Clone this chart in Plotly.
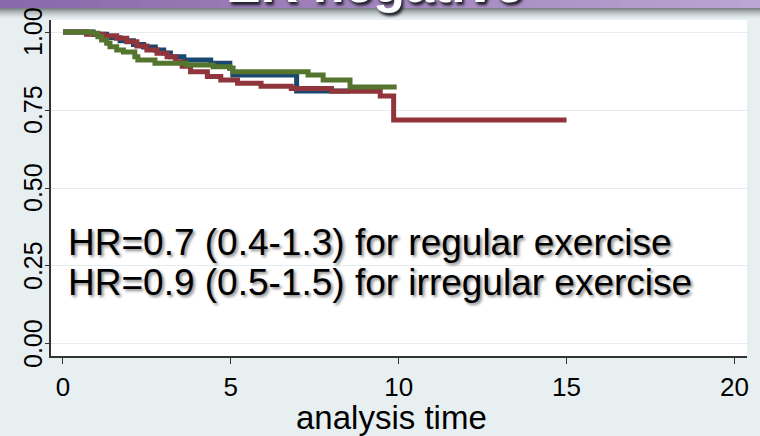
import plotly.graph_objects as go

# ---------------- data (Kaplan-Meier estimates) -------------
time_blue = [0, 0.9, 1.3, 1.7, 2.1, 2.4, 2.75, 3.0, 3.2, 3.6, 4.4, 4.97, 5.06, 6.96, 8.55]
surv_blue = [1.0, 0.993, 0.982, 0.972, 0.96, 0.952, 0.942, 0.933, 0.921, 0.91, 0.9, 0.884, 0.862, 0.811, 0.811]

time_red = [0, 0.7, 1.2, 1.6, 1.9, 2.2, 2.5, 2.8, 3.1, 3.35, 3.55, 3.8, 4.3, 4.7, 5.2, 5.9, 6.8, 8.0, 9.45, 9.85, 15.0]
surv_red = [1.0, 0.993, 0.988, 0.98, 0.969, 0.955, 0.942, 0.932, 0.921, 0.905, 0.89, 0.873, 0.857, 0.846, 0.836, 0.826, 0.819, 0.81, 0.795, 0.718, 0.718]

time_green = [0, 0.85, 1.04, 1.15, 1.3, 1.4, 1.6, 1.8, 2.14, 2.23, 2.74, 3.68, 4.47, 4.97, 5.06, 7.3, 7.75, 8.55, 9.94]
surv_green = [1.0, 0.996, 0.985, 0.974, 0.964, 0.953, 0.942, 0.936, 0.921, 0.91, 0.9, 0.894, 0.889, 0.884, 0.873, 0.862, 0.846, 0.824, 0.824]

x_ticks = [0, 5, 10, 15, 20]
y_ticks = [0.0, 0.25, 0.5, 0.75, 1.0]
y_ticklabels = ["0.00", "0.25", "0.50", "0.75", "1.00"]

title_text = "ER negative"
hr_lines = ["HR=0.7 (0.4-1.3) for regular exercise",
            "HR=0.9 (0.5-1.5) for irregular exercise"]
x_title = "analysis time"

# ---------------- layout geometry ----------------
W, H = 760, 436
ML, MR, MT, MB = 51, 13, 20, 80
PW, PH = W - ML - MR, H - MT - MB


def py(p):  # pixel row -> paper y
    return (H - MB - p) / PH


def pxx(p):  # pixel column -> paper x
    return (p - ML) / PW


FONT = "Liberation Sans, Arial, sans-serif"

fig = go.Figure()
for t, s, c in [(time_blue, surv_blue, "#1a476f"),
                (time_red, surv_red, "#90353b"),
                (time_green, surv_green, "#55752f")]:
    fig.add_trace(go.Scatter(x=t, y=s, mode="lines", line=dict(color=c, width=5, shape="hv"),
                             showlegend=False, hoverinfo="skip"))

shapes = []
# purple header band with horizontal gradient
n = 38
c0 = (138, 104, 170)
c1 = (187, 165, 210)
for i in range(n):
    f = i / (n - 1)
    col = "rgb(%d,%d,%d)" % tuple(int(c0[k] + (c1[k] - c0[k]) * f) for k in range(3))
    shapes.append(dict(type="rect", xref="paper", yref="paper",
                       x0=pxx(i * W / n), x1=pxx((i + 1) * W / n + 1),
                       y0=py(8), y1=py(-2), fillcolor=col, line=dict(width=0), layer="above"))
# shadow below band
m = 11
for j in range(m):
    a = 0.62 * (1 - j / m) ** 1.6
    shapes.append(dict(type="rect", xref="paper", yref="paper",
                       x0=pxx(-2), x1=pxx(W + 2), y0=py(9 + j), y1=py(8 + j),
                       fillcolor="rgba(60,66,66,%.3f)" % a, line=dict(width=0), layer="above"))

fig.update_layout(
    template="none",
    width=W, height=H,
    margin=dict(l=ML, r=MR, t=MT, b=MB, pad=0, autoexpand=False),
    paper_bgcolor="#e8eff1",
    plot_bgcolor="#ffffff",
    shapes=shapes,
    xaxis=dict(range=[-0.357, 20.375], tickvals=x_ticks, ticks="outside", ticklen=6,
               tickcolor="#333333", showgrid=False, zeroline=False, showline=True,
               linecolor="#333333", linewidth=1.5, ticklabelstandoff=1, automargin=False,
               tickfont=dict(family=FONT, size=26, color="#000000")),
    yaxis=dict(range=[-0.0385, 1.0385], tickvals=y_ticks, showticklabels=False,
               ticks="outside", ticklen=4, tickcolor="#333333",
               showgrid=True, gridcolor="#e3ecee", gridwidth=1, zeroline=False,
               showline=True, linecolor="#333333", linewidth=1.5,
               automargin=False),
)

annotations = []
# y tick labels (rotated, placed on the y scale)
for v, lab in zip(y_ticks, y_ticklabels):
    annotations.append(dict(text=lab, xref="paper", yref="y", x=pxx(33), y=v,
                            xanchor="center", yanchor="middle", textangle=-90,
                            showarrow=False,
                            font=dict(family=FONT, size=25, color="#000000")))
annotations += [
    dict(text=title_text, xref="paper", yref="paper", x=pxx(375), y=py(-16),
         xanchor="center", yanchor="middle", showarrow=False,
         font=dict(family=FONT, size=52, color="#ffffff", weight="bold",
                   shadow="2px 3px 3px #1e1e28")),
    dict(text=x_title, xref="paper", yref="paper", x=pxx(391), y=py(417),
         xanchor="center", yanchor="middle", showarrow=False,
         font=dict(family=FONT, size=33, color="#000000")),
]
for k, line in enumerate(hr_lines):
    annotations.append(dict(text=line, xref="paper", yref="paper", x=pxx(66), y=py(242 + 40 * k),
                            xanchor="left", yanchor="middle", showarrow=False,
                            font=dict(family=FONT, size=37, color="#000000",
                                      shadow="2px 2px 3px #8a8a8a")))
fig.update_layout(annotations=annotations)

fig.write_html("out.html")
